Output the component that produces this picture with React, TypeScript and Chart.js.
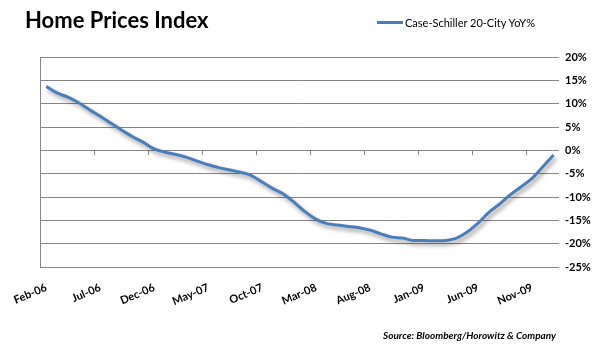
import React, { useEffect, useRef } from "react";
import { Chart, registerables } from "chart.js";

Chart.register(...registerables);

const title = "Home Prices Index";
const seriesName = "Case-Schiller 20-City YoY%";
const sourceNote = "Source: Bloomberg/Horowitz & Company";

const months = [
  "Feb-06", "Mar-06", "Apr-06", "May-06", "Jun-06", "Jul-06", "Aug-06", "Sep-06", "Oct-06", "Nov-06", "Dec-06", "Jan-07",
  "Feb-07", "Mar-07", "Apr-07", "May-07", "Jun-07", "Jul-07", "Aug-07", "Sep-07", "Oct-07", "Nov-07", "Dec-07", "Jan-08",
  "Feb-08", "Mar-08", "Apr-08", "May-08", "Jun-08", "Jul-08", "Aug-08", "Sep-08", "Oct-08", "Nov-08", "Dec-08", "Jan-09",
  "Feb-09", "Mar-09", "Apr-09", "May-09", "Jun-09", "Jul-09", "Aug-09", "Sep-09", "Oct-09", "Nov-09", "Dec-09", "Jan-10",
];

const yoyValues = [
  13.7, 12.3, 11.4, 10.2, 8.7, 7.3, 5.8, 4.3, 2.9, 1.7, 0.3, -0.4,
  -0.9, -1.5, -2.3, -3.1, -3.7, -4.2, -4.7, -5.4, -6.8, -8.2, -9.4, -11.2,
  -13.2, -14.8, -15.7, -16.0, -16.3, -16.6, -17.1, -17.9, -18.6, -18.8, -19.3, -19.3,
  -19.4, -19.3, -18.8, -17.5, -15.6, -13.3, -11.5, -9.5, -7.8, -6.0, -3.5, -1.0,
];

const yMin = -25;
const yMax = 20;
const yStep = 5;
const labelEvery = 5;

const GRID = "#868686";
const LINE = "#4A7EBB";
const FONT = "Lato, 'Open Sans', sans-serif";

const shadowPlugin = {
  id: "lineShadow",
  beforeDatasetDraw(chart: any) {
    const ctx = chart.ctx;
    ctx.save();
    ctx.shadowColor = "rgba(0,0,0,0.4)";
    ctx.shadowBlur = 4;
    ctx.shadowOffsetX = 2;
    ctx.shadowOffsetY = 3;
  },
  afterDatasetDraw(chart: any) {
    chart.ctx.restore();
  },
};

export default function App() {
  const canvasRef = useRef<HTMLCanvasElement | null>(null);

  useEffect(() => {
    document.body.style.margin = "0";
    const canvas = canvasRef.current;
    if (!canvas) return;
    const chart = new Chart(canvas, {
      type: "line",
      data: {
        labels: months,
        datasets: [
          {
            label: seriesName,
            data: yoyValues,
            borderColor: LINE,
            backgroundColor: LINE,
            borderWidth: 3,
            pointRadius: 0,
            fill: false,
            cubicInterpolationMode: "monotone",
            xAxisID: "x",
            yAxisID: "y",
          },
        ],
      },
      options: {
        animation: false,
        responsive: false,
        devicePixelRatio: 1,
        layout: { padding: { top: 57, left: 33, right: 0, bottom: 0 } },
        plugins: {
          legend: { display: false },
          title: { display: false },
          tooltip: { enabled: false },
        },
        scales: {
          x: {
            type: "category",
            position: "bottom",
            offset: true,
            grid: { display: false, drawTicks: false },
            border: { display: false },
            ticks: {
              autoSkip: false,
              minRotation: 23,
              maxRotation: 23,
              padding: 14,
              color: "#000",
              font: { family: FONT, size: 11, weight: "bold" },
              callback: (_v: any, i: number) => (i % labelEvery === 0 ? months[i] : ""),
            },
            afterFit: (s: any) => {
              s.height = 89;
            },
          },
          x0: {
            type: "category",
            axis: "x",
            position: { y: 0 },
            offset: true,
            grid: {
              offset: true,
              drawOnChartArea: false,
              drawTicks: true,
              tickLength: 5,
              color: (c: any) => (c.index % labelEvery === 0 ? GRID : "rgba(0,0,0,0)"),
              tickColor: (c: any) => (c.index % labelEvery === 0 ? GRID : "rgba(0,0,0,0)"),
            },
            border: { display: false },
            ticks: { display: false, autoSkip: false },
          },
          y: {
            type: "linear",
            position: "right",
            min: yMin,
            max: yMax,
            ticks: {
              stepSize: yStep,
              padding: 6,
              color: "#000",
              font: { family: FONT, size: 11, weight: "bold" },
              callback: (v: any) => `${v}%`,
            },
            grid: { color: GRID, lineWidth: 1, drawTicks: false },
            border: { display: false },
            afterFit: (s: any) => {
              s.width = 44;
            },
          },
          y2: {
            type: "linear",
            position: "left",
            min: yMin,
            max: yMax,
            ticks: { display: false },
            grid: { display: false, drawTicks: false },
            border: { display: true, color: GRID, width: 1 },
            afterFit: (s: any) => {
              s.width = 0;
            },
          },
        },
      },
      plugins: [shadowPlugin],
    } as any);
    return () => chart.destroy();
  }, []);

  return (
    <div style={{ position: "relative", width: 603, height: 356, background: "#fff", overflow: "hidden" }}>
      <canvas ref={canvasRef} width={603} height={356} style={{ position: "absolute", left: 0, top: 0 }} />
      <div
        style={{
          position: "absolute",
          left: 25,
          top: 6,
          fontFamily: FONT,
          fontWeight: 700,
          fontSize: 22,
          color: "#000",
          whiteSpace: "nowrap",
        }}
      >
        {title}
      </div>
      <div
        style={{
          position: "absolute",
          left: 377,
          top: 16,
          display: "flex",
          alignItems: "center",
          fontFamily: FONT,
          fontSize: 11,
          color: "#000",
          whiteSpace: "nowrap",
        }}
      >
        <span style={{ display: "inline-block", width: 26, height: 3, background: LINE, marginRight: 2 }} />
        <span>{seriesName}</span>
      </div>
      <div
        style={{
          position: "absolute",
          left: 383,
          top: 329,
          fontFamily: FONT,
          fontStyle: "italic",
          fontWeight: 700,
          fontSize: 10,
          color: "#000",
          whiteSpace: "nowrap",
        }}
      >
        {sourceNote}
      </div>
    </div>
  );
}
